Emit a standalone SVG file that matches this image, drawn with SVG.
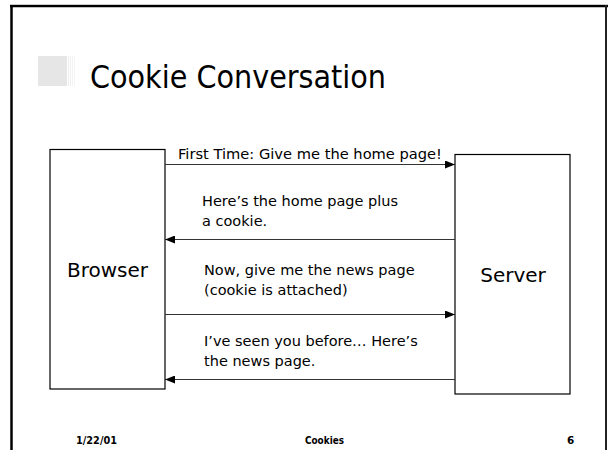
<svg xmlns="http://www.w3.org/2000/svg" width="608" height="450" viewBox="0 0 608 450">
<defs>
<style>
.t{font-family:"DejaVu Sans","Verdana",sans-serif;fill:#000}
.msg{font-size:14.5px}
.lbl{font-size:20px}
.ft{font-size:10.5px;font-weight:bold}
.box{fill:#fff;stroke:#000;stroke-width:1.2}
.ln{stroke:#333;stroke-width:1.2;fill:none}
</style>
<marker id="ah" viewBox="0 0 10 8" refX="10" refY="4" markerWidth="10" markerHeight="8" markerUnits="userSpaceOnUse" orient="auto">
<path d="M0,0 L10,4 L0,8 Z" fill="#000"/>
</marker>
</defs>
<rect width="608" height="450" fill="#fff"/>
<g id="frame">
<line x1="10" y1="6" x2="608" y2="6" stroke="#000" stroke-width="2.5"/>
<line x1="10" y1="4.5" x2="608" y2="4.5" stroke="#ccc" stroke-width="1"/>
<line x1="11.5" y1="5" x2="11.5" y2="450" stroke="#000" stroke-width="2.5"/>
<line x1="606" y1="5" x2="606" y2="450" stroke="#222" stroke-width="2"/>
</g>
<g id="title">
<rect x="38" y="56" width="29" height="30" fill="#e6e6e6"/>
<rect x="68" y="56" width="1" height="30" fill="#eee"/>
<rect x="70" y="56" width="1" height="30" fill="#f0f0f0"/>
<rect x="72" y="56" width="1" height="30" fill="#f3f3f3"/>
<rect x="74" y="56" width="1" height="30" fill="#f6f6f6"/>
<text class="t" x="90" y="88" font-size="32" textLength="296" lengthAdjust="spacingAndGlyphs">Cookie Conversation</text>
</g>
<g id="browser">
<rect class="box" x="50" y="149.5" width="115" height="239.5"/>
<text class="t lbl" x="107.5" y="277" text-anchor="middle">Browser</text>
</g>
<g id="server">
<rect class="box" x="455" y="154.5" width="115" height="239.5"/>
<text class="t lbl" x="513" y="282" text-anchor="middle">Server</text>
</g>
<g id="connectors">
<line class="ln" x1="165" y1="164.5" x2="455" y2="164.5" marker-end="url(#ah)"/>
<line class="ln" x1="455" y1="239.5" x2="165" y2="239.5" marker-end="url(#ah)"/>
<line class="ln" x1="165" y1="314.5" x2="455" y2="314.5" marker-end="url(#ah)"/>
<line class="ln" x1="455" y1="379.5" x2="165" y2="379.5" marker-end="url(#ah)"/>
</g>
<g id="labels">
<text class="t" x="178" y="159" font-size="13.5" textLength="264" lengthAdjust="spacingAndGlyphs">First Time: Give me the home page!</text>
<text class="t msg" x="202" y="206">Here’s the home page plus</text>
<text class="t msg" x="202" y="226">a cookie.</text>
<text class="t msg" x="204" y="275">Now, give me the news page</text>
<text class="t msg" x="204" y="295">(cookie is attached)</text>
<text class="t msg" x="204" y="346">I’ve seen you before… Here’s</text>
<text class="t msg" x="204" y="366">the news page.</text>
</g>
<g id="footer">
<text class="t ft" x="76" y="444" textLength="41" lengthAdjust="spacingAndGlyphs">1/22/01</text>
<text class="t ft" x="305" y="444" textLength="39" lengthAdjust="spacingAndGlyphs">Cookies</text>
<text class="t ft" x="567" y="444">6</text>
</g>
</svg>
